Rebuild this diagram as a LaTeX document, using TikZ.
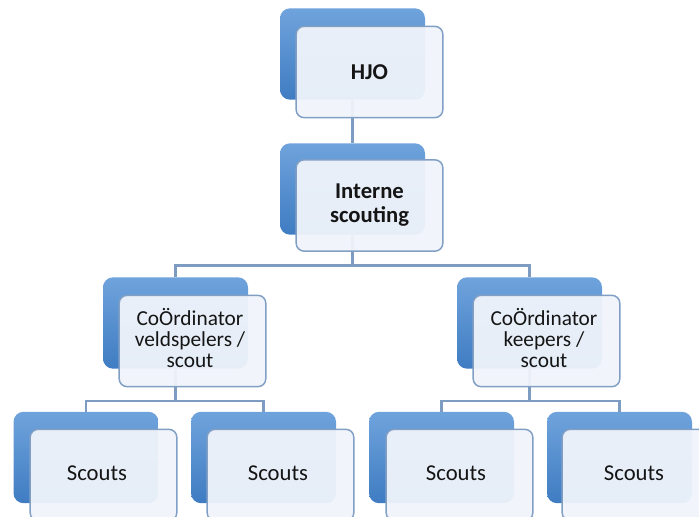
\documentclass[tikz,border=0pt]{standalone}
\usepackage{fontspec}
\setmainfont{Carlito}
\definecolor{bluetop}{HTML}{6FA3DC}
\definecolor{bluebot}{HTML}{3F7CC2}
\definecolor{frontfill}{HTML}{F1F5FB}
\definecolor{frontline}{HTML}{819FC4}
\definecolor{conn}{HTML}{7E9CC2}
\definecolor{txt}{HTML}{151515}
\tikzset{
  backbox/.style={rectangle, rounded corners=7.5pt, top color=bluetop, bottom color=bluebot,
    minimum width=108.75pt, minimum height=68.5pt, inner sep=0pt},
  frontbox/.style={rectangle, rounded corners=6pt, fill=frontfill, fill opacity=0.94,
    text opacity=1, draw=frontline, line width=1.1pt, minimum width=110pt,
    minimum height=68.5pt, inner sep=0pt, align=center, text=txt,
    font=\fontsize{17}{18}\selectfont},
  txtnode/.style={inner sep=0pt, align=center, text=txt},
  linkline/.style={draw=conn, line width=1.6pt},
}
\begin{document}
\begin{tikzpicture}[x=0.75pt,y=-0.75pt]
\useasboundingbox (0,0) rectangle (699,517);
\clip (0,0) rectangle (699,517);
\fill[white] (0,0) rectangle (699,517);
% back boxes
\node[backbox] (hjoB) at (352.5,54) {};
\node[backbox] (intB) at (352.5,189) {};
\node[backbox] (lB) at (175.5,323) {};
\node[backbox] (rB) at (529.5,323) {};
\node[backbox] (s1B) at (86,457.5) {};
\node[backbox] (s2B) at (263.5,457.5) {};
\node[backbox] (s3B) at (441.5,457.5) {};
\node[backbox] (s4B) at (619.5,457.5) {};
% bus levels
\coordinate (bus1) at (0,265.5);
\coordinate (bus2) at (0,401);
% connectors
\draw[linkline] (hjoB.south) -- (intB.north);
\draw[linkline] (intB.south) -- (intB |- bus1) -| (lB.north);
\draw[linkline] (intB |- bus1) -| (rB.north);
\draw[linkline] (lB.south) -- (lB |- bus2) -| (s1B.north);
\draw[linkline] (lB |- bus2) -| (s2B.north);
\draw[linkline] (rB.south) -- (rB |- bus2) -| (s3B.north);
\draw[linkline] (rB |- bus2) -| (s4B.north);
% front boxes
\node[frontbox] (hjo) at (369.5,72) {\bfseries HJO};
\node[frontbox] (int) at (369.5,205.5) {\bfseries Interne\\\bfseries scouting};
\node[frontbox] (l) at (192.5,341) {};
\node[txtnode, font=\fontsize{16}{16}\selectfont] (lt) at (190,338) {CoÖrdinator\\veldspelers /\\scout};
\node[frontbox] (r) at (546.5,341) {};
\node[txtnode, font=\fontsize{16}{16}\selectfont] (rt) at (544,338) {CoÖrdinator\\keepers /\\scout};
\node[frontbox] (s1) at (103.5,475) {};
\node[txtnode, font=\fontsize{17}{18}\selectfont] (s1t) at (97,473) {Scouts};
\node[frontbox] (s2) at (280.5,475) {};
\node[txtnode, font=\fontsize{17}{18}\selectfont] (s2t) at (278,473) {Scouts};
\node[frontbox] (s3) at (459.5,475) {};
\node[txtnode, font=\fontsize{17}{18}\selectfont] (s3t) at (456,473) {Scouts};
\node[frontbox] (s4) at (635.5,475) {};
\node[txtnode, font=\fontsize{17}{18}\selectfont] (s4t) at (634,473) {Scouts};
\end{tikzpicture}
\end{document}
